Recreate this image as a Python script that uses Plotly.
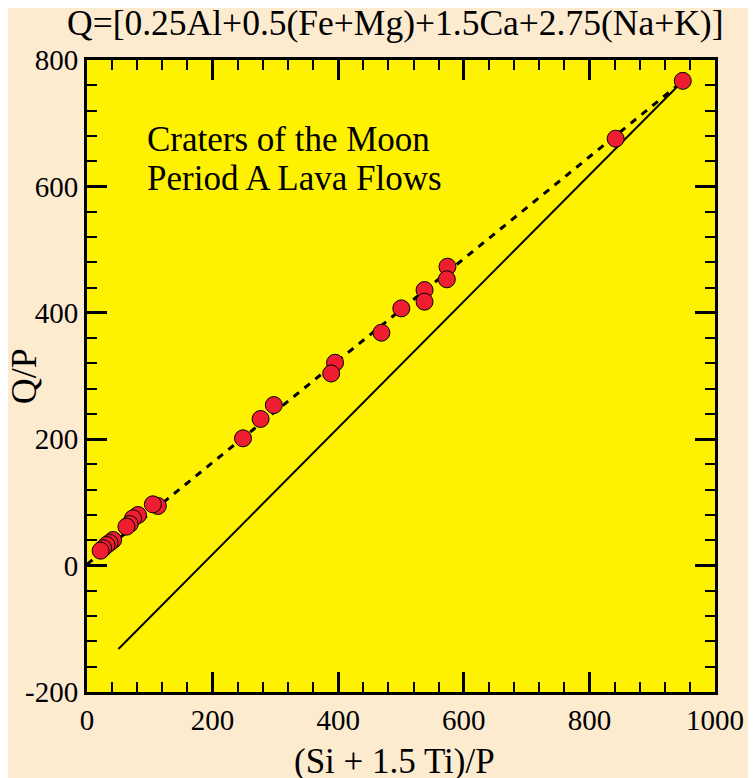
import plotly.graph_objects as go

# Data
si_ti_p = [948.7, 841.8, 574, 573, 537.5, 537.5, 500.5, 468.8, 395, 388.8, 297.5,
           276.4, 248.4, 112.8, 104.9, 81.2, 73.3, 68, 62.8, 41.6, 36, 31.2, 25.8, 21.7]
q_p = [767, 675.5, 473, 453, 436, 417.6, 407, 368.5, 321, 304, 254,
       232, 201.4, 94.3, 97, 80, 74.8, 65.8, 61.6, 40.5, 36, 32.6, 27.4, 23.6]

# Regression (dashed) line endpoints and reference (solid) line endpoints
fit_x = [0, 948]
fit_y = [2, 766]
ref_x = [50, 948]
ref_y = [-132, 766]

x_ticks = [0, 200, 400, 600, 800, 1000]
x_tick_text = ["0", "200", "400", "600", "800", "1000"]
y_ticks = [-200, 0, 200, 400, 600, 800]
y_tick_text = ["-200", "0", "200", "400", "600", "800"]

FONT = "Liberation Serif, Times New Roman, serif"

fig = go.Figure()
fig.add_trace(go.Scatter(x=ref_x, y=ref_y, mode="lines",
                         line=dict(color="black", width=2), hoverinfo="skip"))
fig.add_trace(go.Scatter(x=fit_x, y=fit_y, mode="lines",
                         line=dict(color="black", width=3, dash="7px,7px"), hoverinfo="skip"))
fig.add_trace(go.Scatter(x=si_ti_p, y=q_p, mode="markers",
                         marker=dict(size=17, color="#EE1D2F",
                                     line=dict(color="black", width=1))))

axis_common = dict(
    showgrid=False, zeroline=False, showline=True, linecolor="black", linewidth=3,
    ticks="inside", ticklen=20, tickwidth=2.5, tickcolor="black", mirror="allticks",
    tickfont=dict(family=FONT, size=29, color="black"),
    minor=dict(ticks="inside", ticklen=10, tickwidth=2, tickcolor="black", showgrid=False),
)

# page body has an 8px margin: figure is shrunk and margins adjusted accordingly
fig.update_layout(
    width=748, height=770,
    margin=dict(l=79, r=37, t=52, b=86),
    paper_bgcolor="#FDEBD0",
    plot_bgcolor="#FFF200",
    showlegend=False,
    xaxis=dict(range=[0, 1000], tickvals=x_ticks, ticktext=x_tick_text, minor_dtick=40, **axis_common),
    yaxis=dict(range=[-200, 800], tickvals=y_ticks, ticktext=y_tick_text, minor_dtick=40, **axis_common),
    font=dict(family=FONT, color="black"),
    annotations=[
        dict(text="Q=[0.25Al+0.5(Fe+Mg)+1.5Ca+2.75(Na+K)]", xref="paper", yref="paper",
             x=0.4905, y=1.059, xanchor="center", yanchor="middle", showarrow=False,
             font=dict(family=FONT, size=35.5, color="black")),
        dict(text="(Si + 1.5 Ti)/P", xref="paper", yref="paper",
             x=0.49, y=-0.11, xanchor="center", yanchor="middle", showarrow=False,
             font=dict(family=FONT, size=35, color="black")),
        dict(text="Q/P", xref="paper", yref="paper", textangle=-90,
             x=-0.10, y=0.5, xanchor="center", yanchor="middle", showarrow=False,
             font=dict(family=FONT, size=36, color="black")),
        dict(text="Craters of the Moon", xref="paper", yref="paper",
             x=(145 - 87) / 632, y=(692 - 139) / 632.5, xanchor="left", yanchor="middle",
             showarrow=False, font=dict(family=FONT, size=35, color="black")),
        dict(text="Period A Lava Flows", xref="paper", yref="paper",
             x=(145 - 87) / 632, y=(692 - 178) / 632.5, xanchor="left", yanchor="middle",
             showarrow=False, font=dict(family=FONT, size=35, color="black")),
    ],
)

fig.write_html("out.html")
